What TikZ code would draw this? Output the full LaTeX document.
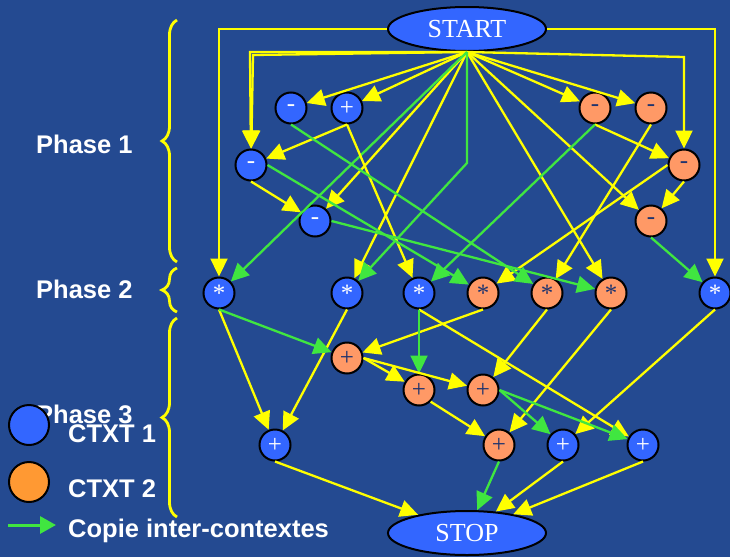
\documentclass[tikz,border=0pt]{standalone}
\usepackage{fontspec}
\setmainfont{Liberation Serif}
\setsansfont{Liberation Sans}
\usetikzlibrary{arrows.meta,shapes.geometric,decorations.pathreplacing}
\definecolor{bg}{RGB}{36,74,145}
\definecolor{nblue}{RGB}{51,102,255}
\definecolor{norange}{RGB}{255,153,102}
\definecolor{lorange}{RGB}{255,153,51}
\definecolor{ylw}{RGB}{255,255,0}
\definecolor{grn}{RGB}{64,230,64}
\definecolor{ntext}{RGB}{31,51,110}
\begin{document}
\begin{tikzpicture}[x=1pt,y=-1pt,
  nb/.style={circle, draw=black, line width=2pt, fill=nblue, minimum size=31pt, inner sep=0pt, text=white, font=\fontsize{25}{25}\selectfont},
  no/.style={nb, fill=norange, text=ntext},
  term/.style={ellipse, draw=black, line width=2pt, fill=nblue, minimum width=158pt, minimum height=44pt, inner sep=0pt, text=white, font=\fontsize{26}{26}\selectfont},
  ye/.style={draw=ylw, line width=2.3pt, -{Triangle[length=18pt,width=17pt]}},
  ge/.style={draw=grn, line width=2.3pt, -{Triangle[length=18pt,width=17pt]}},
  lbl/.style={font=\sffamily\bfseries\fontsize{25.5}{30}\selectfont, text=white, inner sep=0pt, anchor=base west},
  phbrace/.style={draw=ylw, line width=2.8pt, decorate, decoration={brace, amplitude=15pt}},
  legdot/.style={circle, draw=black, line width=2pt, minimum size=40pt, inner sep=0pt}
]
\fill[bg] (0,0) rectangle (730,557);
\useasboundingbox (0,0) rectangle (730,557);

% terminals
\node[term] (START) at (467,29) {START};
\node[term] (STOP) at (467,533) {STOP};

% phase 1
\node[nb] (B1) at (291,108) {-};
\node[nb] (B2) at (347,108) {+};
\node[no] (O1) at (595,108) {-};
\node[no] (O2) at (651,108) {-};
\node[nb] (B3) at (251,165) {-};
\node[no] (O3) at (684,165) {-};
\node[nb] (B4) at (315,221) {-};
\node[no] (O4) at (651,221) {-};

% phase 2
\node[nb] (S1) at (219,293) {*};
\node[nb] (S2) at (347,293) {*};
\node[nb] (S3) at (419,293) {*};
\node[no] (S4) at (483,293) {*};
\node[no] (S5) at (547,293) {*};
\node[no] (S6) at (611,293) {*};
\node[nb] (S7) at (715,293) {*};

% phase 3
\node[no] (P1) at (347,358) {+};
\node[no] (P2) at (419,390) {+};
\node[no] (P3) at (483,390) {+};
\node[nb] (Q1) at (275,445) {+};
\node[no] (Q2) at (499,445) {+};
\node[nb] (Q3) at (563,445) {+};
\node[nb] (Q4) at (643,445) {+};

% corner coordinates
\coordinate (cl1) at (250,52);
\coordinate (cl2) at (253,55);
\coordinate (cr1) at (684,57);
\coordinate (cg1) at (467,163);

% edges from START
\draw[ye] (START.west) -| (S1);
\draw[ye] (START.east) -| (S7);
\draw[ye] (START.south) -- (cl1) -- (B3);
\draw[ye] (START.south) -- (cl2) -- (B3);
\draw[ye] (START.south) -- (cr1) -- (O3);
\draw[ye] (START.south) -- (B1);
\draw[ye] (START.south) -- (B2);
\draw[ye] (START.south) -- (O1);
\draw[ye] (START.south) -- (O2);
\draw[ye] (START.south) -- (B4);
\draw[ye] (START.south) -- (S2);
\draw[ye] (START.south) -- (S6);
\draw[ye] (START.south) -- (O4);
\draw[ge] (START.south) -- (S1);
\draw[ge] (START.south) -- (cg1) -- (S2);

% phase 1 internal
\draw[ye] (B2.south) -- (B3);
\draw[ye] (B3.south) -- (B4);
\draw[ye] (O1.south) -- (O3);
\draw[ye] (O3.south) -- (O4);

% phase 1 -> phase 2
\draw[ye] (B2.south) -- (S3);
\draw[ye] (O3.west) -- (S4);
\draw[ye] (O2.south) -- (S5);
\draw[ge] (B3.east) -- (S4);
\draw[ge] (B1.south) -- (S5);
\draw[ge] (B4.east) -- (S6);
\draw[ge] (O1.south) -- (S3);
\draw[ge] (O4.south) -- (S7);

% phase 2 -> phase 3
\draw[ye] (S1.south) -- (Q1);
\draw[ye] (S2.south) -- (Q1);
\draw[ye] (S3.south) -- (Q4);
\draw[ye] (S4.south) -- (P1);
\draw[ye] (S5.south) -- (P3);
\draw[ye] (S6.south) -- (Q2);
\draw[ye] (S7.south) -- (Q3);
\draw[ge] (S1.south) -- (P1);
\draw[ge] (S3.south) -- (P2);
\draw[ye] (P1.east) -- (P2);
\draw[ye] (P1.east) -- (P3);
\draw[ye] (P2.south east) -- (Q2);
\draw[ge] (P3.east) -- (Q3);
\draw[ge] (P3.east) -- (Q4);

% to STOP
\draw[ye] (Q1.south) -- (STOP);
\draw[ge] (Q2.south) -- (STOP);
\draw[ye] (Q3.south) -- (STOP);
\draw[ye] (Q4.south) -- (STOP);

% braces
\draw[phbrace] (177,262) -- (177,20);
\draw[phbrace] (177,312) -- (177,268);
\draw[phbrace] (177,517) -- (177,318);

% labels
\node[lbl] (ph1) at (36,153) {Phase 1};
\node[lbl] (ph2) at (36,298) {Phase 2};
\node[lbl] (ph3) at (36,423) {Phase 3};

% legend
\node[legdot, fill=nblue] (lg1) at (29,425) {};
\node[legdot, fill=lorange] (lg2) at (29,482) {};
\node[lbl] (t1) at (68,442) {CTXT 1};
\node[lbl] (t2) at (68,497) {CTXT 2};
\coordinate (la) at (8,525);
\coordinate (lb) at (56,525);
\draw[draw=grn, line width=3pt, -{Triangle[length=16pt,width=17pt]}] (la) -- (lb);
\node[lbl] (t3) at (68,537) {Copie inter-contextes};
\end{tikzpicture}
\end{document}
